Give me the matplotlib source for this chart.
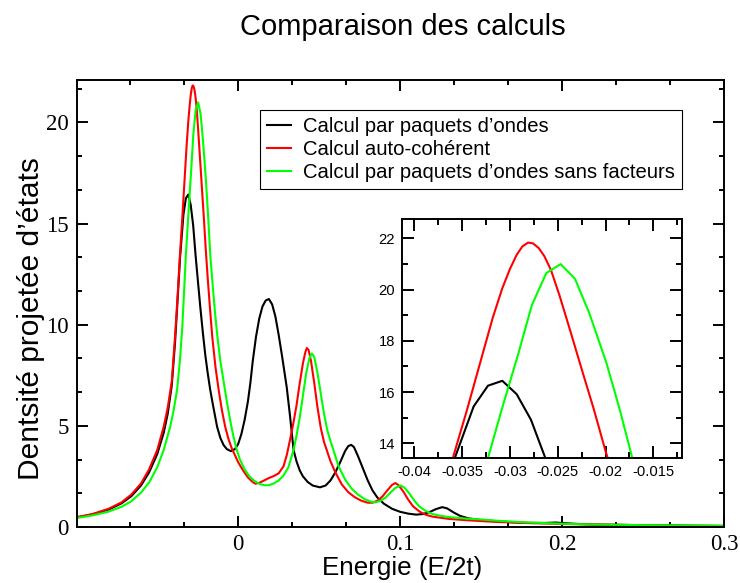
import numpy as np
import matplotlib
matplotlib.use('Agg')
import matplotlib.pyplot as plt
from matplotlib.ticker import AutoMinorLocator, MultipleLocator

plt.rcParams['font.family'] = ['Liberation Sans', 'DejaVu Sans']

#%% Data (E/2t, projected DOS)

black_x = [-0.100, -0.090, -0.080, -0.072, -0.066, -0.060, -0.055, -0.050, -0.046, -0.0435,
           -0.041, -0.039, -0.0375, -0.0359, -0.0338, -0.0323, -0.0308, -0.0293, -0.0278,
           -0.0263, -0.0248, -0.0233, -0.0218, -0.0203, -0.0188, -0.0173, -0.0155, -0.013, -0.011,
           -0.009, -0.007, -0.0045, -0.002, 0.000, 0.002, 0.004, 0.006, 0.0075, 0.009,
           0.011, 0.013, 0.015, 0.017, 0.019, 0.021, 0.023, 0.025, 0.027, 0.030,
           0.032, 0.0342, 0.036, 0.038, 0.040, 0.043, 0.046, 0.0505, 0.054, 0.057,
           0.060, 0.063, 0.066, 0.068, 0.0698, 0.0715, 0.074, 0.077, 0.080, 0.083,
           0.086, 0.090, 0.095, 0.100, 0.105, 0.110, 0.114, 0.118, 0.122, 0.126,
           0.129, 0.133, 0.137, 0.142, 0.150, 0.160, 0.170, 0.180, 0.190, 0.196,
           0.203, 0.210, 0.220, 0.240, 0.260, 0.280, 0.300]
black_y = [0.47, 0.62, 0.86, 1.17, 1.52, 2.05, 2.70, 3.60, 4.65, 5.60,
           7.00, 9.10, 11.10, 13.30, 15.44, 16.25, 16.44, 15.92, 14.92,
           13.43, 12.10, 10.80, 9.60, 8.50, 7.60, 6.80, 6.00, 4.95, 4.40,
           4.05, 3.85, 3.75, 3.85, 4.10, 4.60, 5.30, 6.20, 7.10, 8.20,
           9.40, 10.30, 10.90, 11.20, 11.27, 11.00, 10.40, 9.50, 8.50, 6.90,
           5.50, 3.81, 3.25, 2.80, 2.50, 2.22, 2.05, 1.96, 2.05, 2.30,
           2.70, 3.20, 3.75, 4.00, 4.06, 3.95, 3.50, 2.90, 2.30, 1.80,
           1.45, 1.15, 0.90, 0.75, 0.66, 0.61, 0.64, 0.73, 0.88, 0.98,
           0.92, 0.72, 0.55, 0.43, 0.34, 0.28, 0.23, 0.20, 0.20, 0.22,
           0.18, 0.15, 0.12, 0.10, 0.08, 0.06, 0.05]

red_x = [-0.100, -0.090, -0.080, -0.072, -0.066, -0.060, -0.055, -0.050, -0.046, -0.0435,
         -0.041, -0.039, -0.0375, -0.036, -0.0345, -0.033, -0.0318, -0.0308, -0.0300, -0.0293,
         -0.0287, -0.0281, -0.0276, -0.0270, -0.0264, -0.0257, -0.0248, -0.0237, -0.0225, -0.0212,
         -0.0200, -0.0188, -0.0175, -0.0160, -0.0140, -0.0120, -0.0100, -0.0080, -0.0060, -0.0040,
         -0.0020, 0.000, 0.003, 0.006, 0.009, 0.0106, 0.013, 0.016, 0.019, 0.022,
         0.025, 0.028, 0.030, 0.032, 0.034, 0.036, 0.038, 0.040, 0.0415, 0.0424,
         0.0435, 0.045, 0.047, 0.049, 0.051, 0.053, 0.0547, 0.057, 0.060, 0.064,
         0.068, 0.072, 0.076, 0.080, 0.083, 0.086, 0.089, 0.092, 0.095, 0.097,
         0.099, 0.102, 0.105, 0.108, 0.112, 0.116, 0.120, 0.130, 0.140, 0.150,
         0.160, 0.180, 0.200, 0.220, 0.250, 0.280, 0.300]
red_y = [0.48, 0.64, 0.90, 1.22, 1.60, 2.15, 2.85, 3.80, 4.95, 5.90,
         7.20, 9.40, 11.30, 13.40, 15.30, 17.30, 18.90, 20.05, 20.80, 21.35,
         21.68, 21.83, 21.80, 21.62, 21.30, 20.75, 19.75, 18.40, 16.90, 15.30,
         13.70, 12.30, 10.90, 9.40, 7.90, 6.75, 5.75, 4.95, 4.35, 3.90,
         3.55, 3.20, 2.80, 2.45, 2.22, 2.14, 2.18, 2.30, 2.42, 2.52,
         2.65, 3.00, 3.55, 4.30, 5.10, 6.00, 7.10, 8.10, 8.65, 8.85,
         8.75, 8.20, 7.10, 5.90, 4.90, 4.20, 3.80, 3.25, 2.70, 2.10,
         1.72, 1.47, 1.30, 1.20, 1.20, 1.30, 1.50, 1.80, 2.08, 2.17,
         2.07, 1.75, 1.35, 1.02, 0.76, 0.60, 0.51, 0.40, 0.34, 0.29,
         0.25, 0.19, 0.15, 0.12, 0.09, 0.06, 0.05]

green_x = [-0.100, -0.090, -0.080, -0.072, -0.066, -0.060, -0.055, -0.050, -0.046, -0.042,
           -0.040, -0.0377, -0.036, -0.0345, -0.0333, -0.0323, -0.0308, -0.0292, -0.0277, -0.0262,
           -0.0247, -0.0232, -0.0217, -0.0199, -0.0185, -0.0172, -0.0158, -0.0143, -0.0128, -0.011,
           -0.009, -0.007, -0.005, -0.003, -0.001, 0.001, 0.004, 0.007, 0.010, 0.013,
           0.0165, 0.019, 0.022, 0.025, 0.028, 0.031, 0.0342, 0.036, 0.038, 0.040,
           0.042, 0.044, 0.0455, 0.047, 0.049, 0.051, 0.053, 0.055, 0.057, 0.0588,
           0.062, 0.066, 0.070, 0.074, 0.078, 0.082, 0.085, 0.088, 0.091, 0.094,
           0.097, 0.1005, 0.103, 0.106, 0.109, 0.112, 0.116, 0.120, 0.125, 0.130,
           0.140, 0.150, 0.160, 0.170, 0.180, 0.200, 0.220, 0.250, 0.280, 0.300]
green_y = [0.44, 0.57, 0.76, 1.00, 1.27, 1.70, 2.20, 2.95, 3.80, 4.95,
           5.70, 6.80, 8.20, 9.90, 11.80, 13.43, 15.40, 17.40, 19.40, 20.64,
           20.99, 20.42, 19.08, 17.13, 15.30, 13.43, 12.00, 10.60, 9.40, 8.20,
           7.20, 6.20, 5.30, 4.50, 3.85, 3.35, 2.85, 2.50, 2.28, 2.13,
           2.06, 2.07, 2.15, 2.30, 2.55, 2.95, 3.81, 4.50, 5.40, 6.50,
           7.60, 8.35, 8.58, 8.40, 7.60, 6.60, 5.60, 4.80, 4.25, 3.81,
           3.00, 2.35, 1.90, 1.60, 1.38, 1.25, 1.22, 1.30, 1.45, 1.70,
           1.93, 2.05, 1.92, 1.62, 1.28, 1.00, 0.78, 0.64, 0.55, 0.49,
           0.42, 0.37, 0.31, 0.26, 0.22, 0.16, 0.12, 0.09, 0.07, 0.06]

labels = ["Calcul par paquets d\u2019ondes", "Calcul auto-coh\u00e9rent",
          "Calcul par paquets d\u2019ondes sans facteurs"]
colors = ['#000000', '#ff0000', '#00ff00']

main_xticks = [0, 0.1, 0.2, 0.3]
main_xticklabels = ['0', '0.1', '0.2', '0.3']
main_yticks = [0, 5, 10, 15, 20]
main_yticklabels = ['0', '5', '10', '15', '20']
ins_xticks = [-0.04, -0.035, -0.03, -0.025, -0.02, -0.015]
ins_xticklabels = ['-0.04', '-0.035', '-0.03', '-0.025', '-0.02', '-0.015']
ins_yticks = [14, 16, 18, 20, 22]
ins_yticklabels = ['14', '16', '18', '20', '22']

series = [(black_x, black_y), (red_x, red_y), (green_x, green_y)]

#%% Figure
fig = plt.figure(figsize=(7.4, 5.83), dpi=100)
ax = fig.add_axes([0.1041, 0.0961, 0.8743, 0.7667])

for (x, y), c, l in zip(series, colors, labels):
    ax.plot(x, y, color=c, lw=1.5, label=l)

ax.set_xlim(-0.0995, 0.3)
ax.set_ylim(0, 22.1)
ax.set_xticks(main_xticks)
ax.set_xticklabels(main_xticklabels)
ax.set_yticks(main_yticks)
ax.set_yticklabels(main_yticklabels)
ax.xaxis.set_minor_locator(AutoMinorLocator(3))
ax.yaxis.set_minor_locator(AutoMinorLocator(3))
ax.tick_params(which='both', direction='in', top=True, right=True, width=1.4)
ax.tick_params(which='major', length=8)
ax.tick_params(axis='x', which='major', pad=5)
ax.tick_params(axis='y', which='major', pad=6)
ax.tick_params(which='minor', length=3.8)
for t in ax.get_xticklabels() + ax.get_yticklabels():
    t.set_family('Liberation Serif')
    t.set_fontsize(16.5)
for s in ax.spines.values():
    s.set_linewidth(1.4)

leg = ax.legend(loc='upper left', bbox_to_anchor=(0.283, 0.933), borderaxespad=0,
                fontsize=14.6, handlelength=1.15, handletextpad=0.6, borderpad=0.35,
                labelspacing=0.2, fancybox=False, framealpha=1, edgecolor='black')
leg.get_frame().set_linewidth(0.8)

fig.text(0.545, 1 - 27/583, 'Comparaison des calculs', fontsize=21, ha='center', va='center')
fig.text(0.543, 1 - 568/583, 'Energie (E/2t)', fontsize=18.7, ha='center', va='center')
fig.text(31/740, 1 - 319/583, 'Dentsit\u00e9 projet\u00e9e d\u2019\u00e9tats', fontsize=21.5,
         rotation=90, ha='center', va='center')

#%% Inset zoom on the main peak
axi = fig.add_axes([0.5432, 0.2144, 0.3784, 0.41])
for (x, y), c in zip(series, colors):
    axi.plot(x, y, color=c, lw=1.5)
axi.set_xlim(-0.0413, -0.012)
axi.set_ylim(13.43, 22.75)
axi.set_xticks(ins_xticks)
axi.set_xticklabels(ins_xticklabels)
axi.set_yticks(ins_yticks)
axi.set_yticklabels(ins_yticklabels)
axi.xaxis.set_minor_locator(MultipleLocator(0.0025))
axi.yaxis.set_minor_locator(MultipleLocator(1))
axi.tick_params(which='both', direction='in', top=True, right=True, width=1.4, labelsize=10.6)
axi.tick_params(which='major', length=8.6, pad=5)
axi.tick_params(which='minor', length=4.3)
for s in axi.spines.values():
    s.set_linewidth(1.4)

fig.savefig('out.png', dpi=100, facecolor='w')
